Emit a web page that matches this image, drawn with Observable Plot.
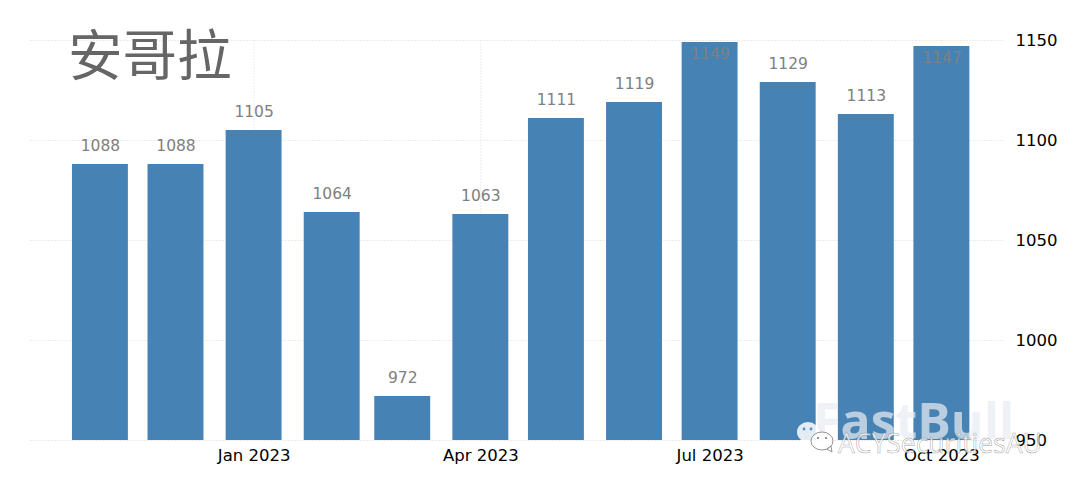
<!DOCTYPE html>
<html><head><meta charset="utf-8">
<script src="https://cdn.jsdelivr.net/npm/d3@7"></script>
<script src="https://cdn.jsdelivr.net/npm/@observablehq/plot@0.6"></script>
<style>
html,body{margin:0;padding:0;background:#fff;overflow:hidden}
#wrap{position:relative;width:1080px;height:485px}
#wrap svg{display:block}
.t{position:absolute;white-space:nowrap;line-height:1}
</style></head><body><div id="wrap">
<div id="chart"></div>
<div class="t" style="left:68px;top:12px;font:54.5px 'Noto Sans CJK SC';color:#666">安哥拉</div>
<div class="t" style="left:813px;top:386px;font:bold 50px 'Open Sans';color:rgba(232,236,241,.72)">FastBull</div>
<div class="t" style="left:838px;top:425px;font:26.5px 'Open Sans';color:rgba(255,255,255,.7);-webkit-text-stroke:.5px rgba(90,90,90,.6)">ACYSecuritiesAU</div>
<svg class="t" style="left:795px;top:420px" width="42" height="36" viewBox="0 0 42 36">
<ellipse cx="13" cy="12" rx="11" ry="10" fill="rgba(255,255,255,.85)"/>
<path d="M6 19l-2 5 7-3z" fill="rgba(255,255,255,.85)"/>
<circle cx="9" cy="9" r="1.4" fill="#5a8fb8"/><circle cx="16" cy="9" r="1.4" fill="#5a8fb8"/>
<ellipse cx="27" cy="21" rx="11" ry="9" fill="rgba(255,255,255,.8)" stroke="#777" stroke-width=".8"/>
<path d="M32 29l5 3-1-6z" fill="rgba(255,255,255,.8)" stroke="#777" stroke-width=".8"/>
<circle cx="23" cy="18" r="1.1" fill="#777"/><circle cx="31" cy="18" r="1.1" fill="#777"/>
</svg>
</div>
<script>
const months = ["2022-11-01","2022-12-01","2023-01-01","2023-02-01","2023-03-01","2023-04-01","2023-05-01","2023-06-01","2023-07-01","2023-08-01","2023-09-01","2023-10-01"];
const values = [1088,1088,1105,1064,972,1063,1111,1119,1149,1129,1113,1147];
const yTicks = [950,1000,1050,1100,1150];
const xTicks = ["2023-01-01","2023-04-01","2023-07-01","2023-10-01"];
const xDomain = ["2022-10-04T06:00Z","2023-10-26T06:00Z"];
const halfBarDays = 11.1;
const baseline = 950;
const labelInsideFrom = 1140;

const day = 864e5;
const table = months.map((m,i)=>({date:new Date(m),value:values[i],
  x1:new Date(+new Date(m)-halfBarDays*day),x2:new Date(+new Date(m)+halfBarDays*day)}));
const font = "'DejaVu Sans'";
const chart = Plot.plot({
  width:1080,height:485,marginLeft:30,marginRight:75,marginTop:40,marginBottom:45,
  style:{background:"transparent",fontFamily:font},
  x:{type:"utc",domain:xDomain.map(d=>new Date(d))},
  y:{domain:[baseline,1150]},
  marks:[
    Plot.gridY(yTicks,{stroke:"#ececec",strokeOpacity:1,strokeDasharray:"2,1"}),
    Plot.gridX(xTicks.map(d=>new Date(d)),{stroke:"#ececec",strokeOpacity:1,strokeDasharray:"2,1"}),
    Plot.rectY(table,{x1:"x1",x2:"x2",y1:baseline,y2:"value",fill:"#4682b4"}),
    Plot.text(table.filter(d=>d.value<labelInsideFrom),{x:"date",y:"value",text:d=>String(d.value),dy:-18,fill:"#808080",fontSize:15.5}),
    Plot.text(table.filter(d=>d.value>=labelInsideFrom),{x:"date",y:"value",text:d=>String(d.value),dy:12,fill:"#808080",fontSize:15.5}),
    Plot.axisY({anchor:"right",ticks:yTicks,tickSize:0,tickPadding:10,label:null,fontSize:16.5,fill:"#000",tickFormat:d=>String(d)}),
    Plot.axisX({ticks:xTicks.map(d=>new Date(d)),tickSize:0,tickPadding:9,label:null,fontSize:16.5,fill:"#000",tickFormat:d3.utcFormat("%b %Y")})
  ]
});
document.getElementById("chart").appendChild(chart);
</script></body></html>
